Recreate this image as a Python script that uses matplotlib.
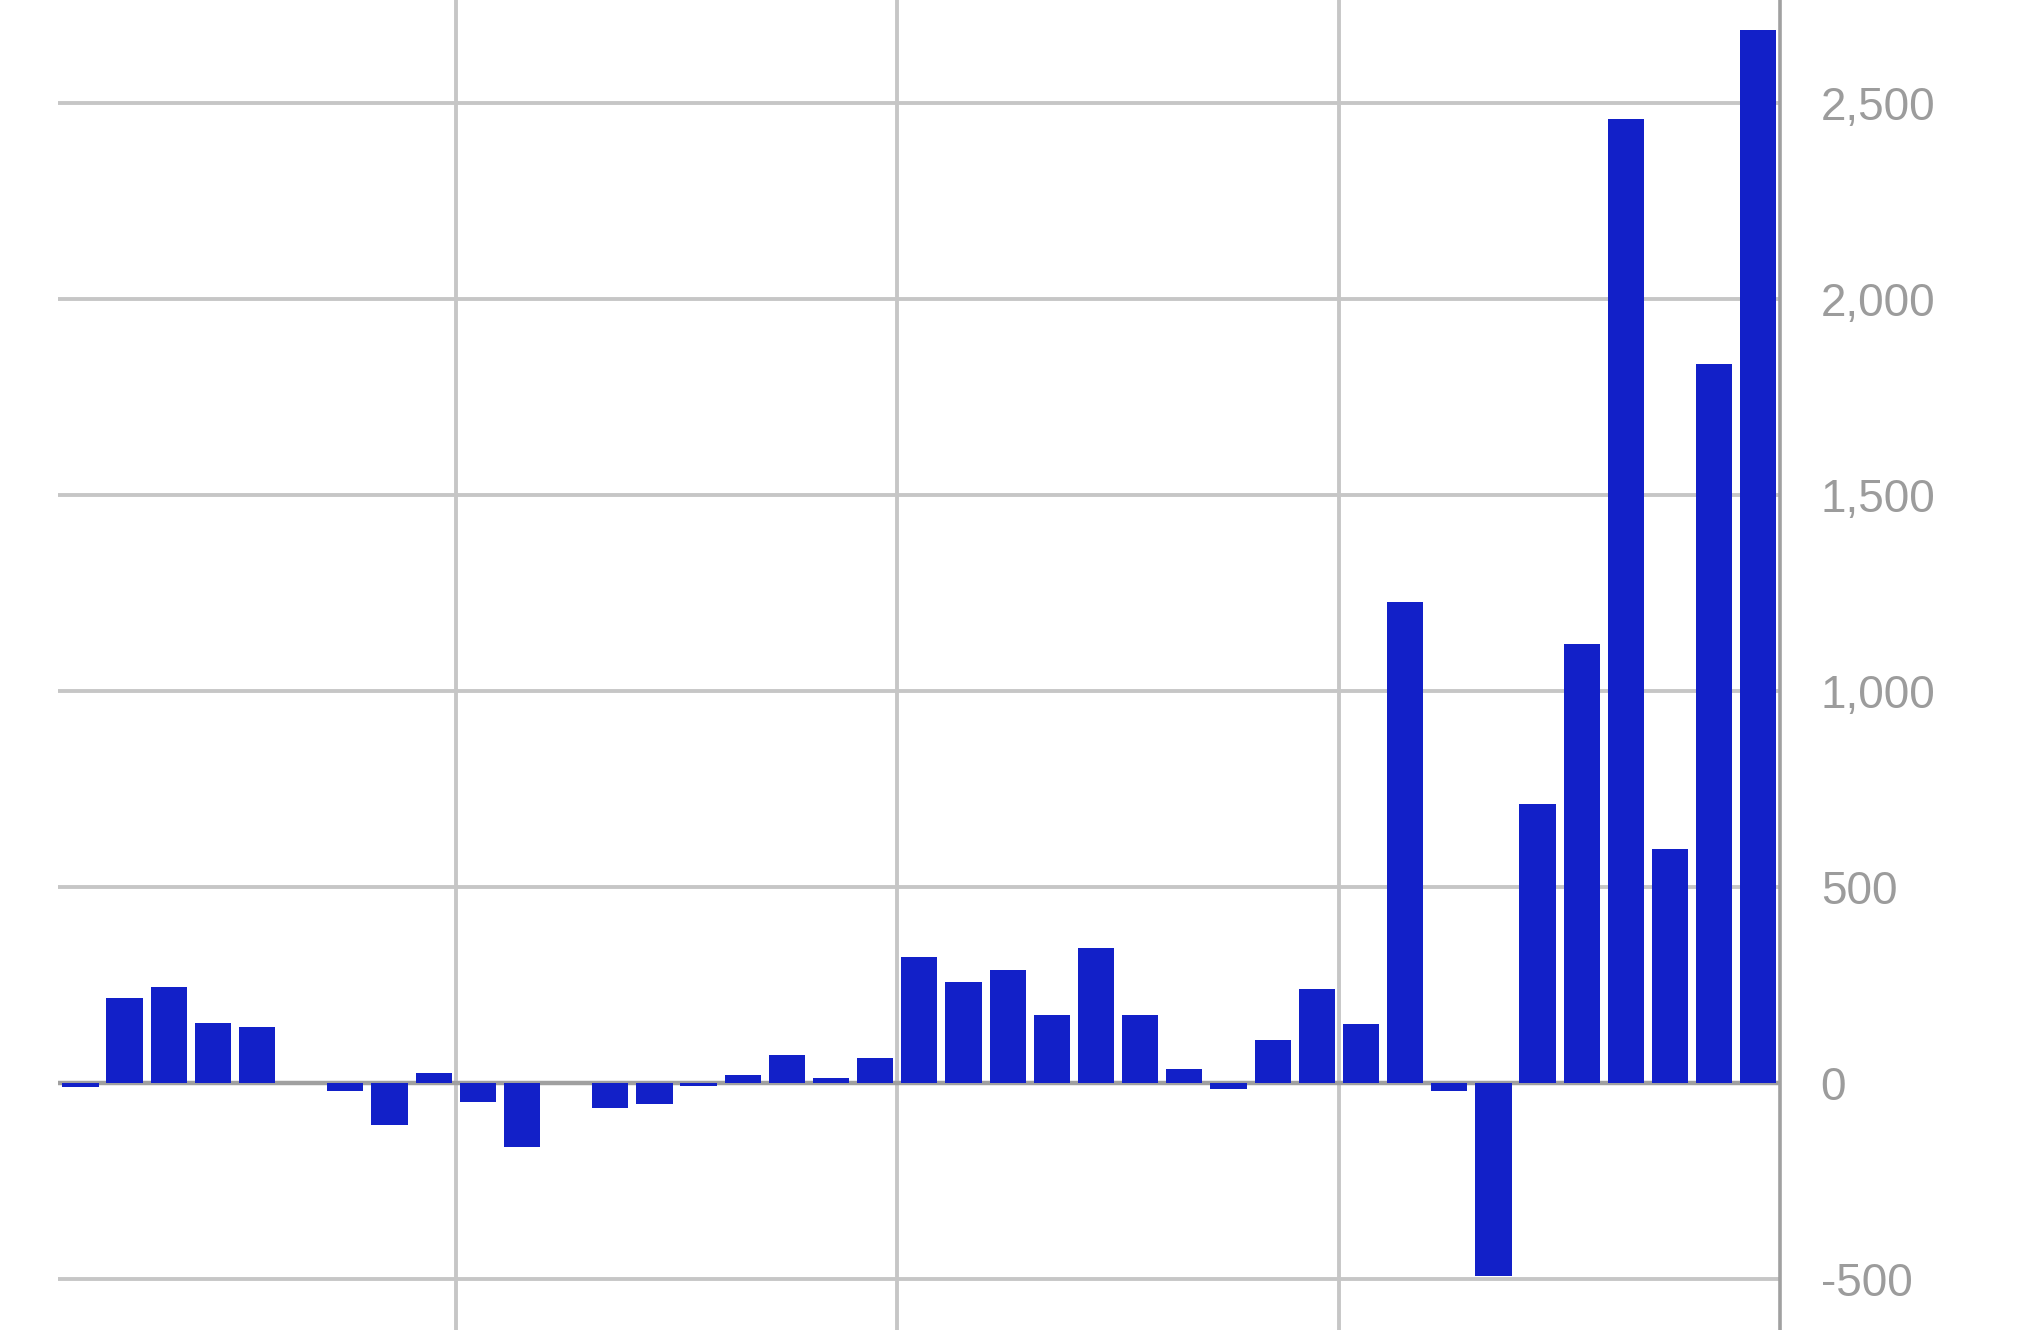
import matplotlib.pyplot as plt
from matplotlib.ticker import FuncFormatter

# values, one per bar, left to right
periods = list(range(39))
values = [-12, 217, 245, 153, 143, 0, -20, -107, 26, -48,
          -165, 0, -64, -54, -8, 20, 70, 13, 63, 321,
          256, 288, 173, 344, 173, 35, -16, 108, 239, 150,
          1227, -22, -493, 711, 1120, 2460, 596, 1833, 2687]
y_ticks = [-500, 0, 500, 1000, 1500, 2000, 2500]

plt.rcParams['font.family'] = ['Liberation Sans', 'DejaVu Sans']

fig = plt.figure(figsize=(20.32, 13.3), dpi=100)
ax = fig.add_axes([0.0287, 0.0, 0.8475, 1.0])

ax.bar(periods, values, width=0.82, color='#1220c8', zorder=3)

ax.set_xlim(-0.5, 38.5)
ax.set_ylim(-631, 2763)

ax.set_yticks(y_ticks)
ax.yaxis.set_major_formatter(FuncFormatter(lambda v, p: f'{v:,.0f}'))
ax.yaxis.tick_right()
ax.tick_params(axis='y', length=0, pad=29, labelsize=33, labelcolor='#9c9c9c')

ax.set_xticks([8.5, 18.5, 28.5])
ax.tick_params(axis='x', length=0, labelbottom=False)

ax.grid(True, color='#c6c6c6', linewidth=2.8, zorder=0)
ax.axhline(0, color='#a0a0a0', linewidth=3.2, zorder=2)

for side in ['left', 'top', 'bottom']:
    ax.spines[side].set_visible(False)
ax.spines['right'].set_color('#a0a0a0')
ax.spines['right'].set_linewidth(2.6)

fig.savefig('out.png', dpi=100)
